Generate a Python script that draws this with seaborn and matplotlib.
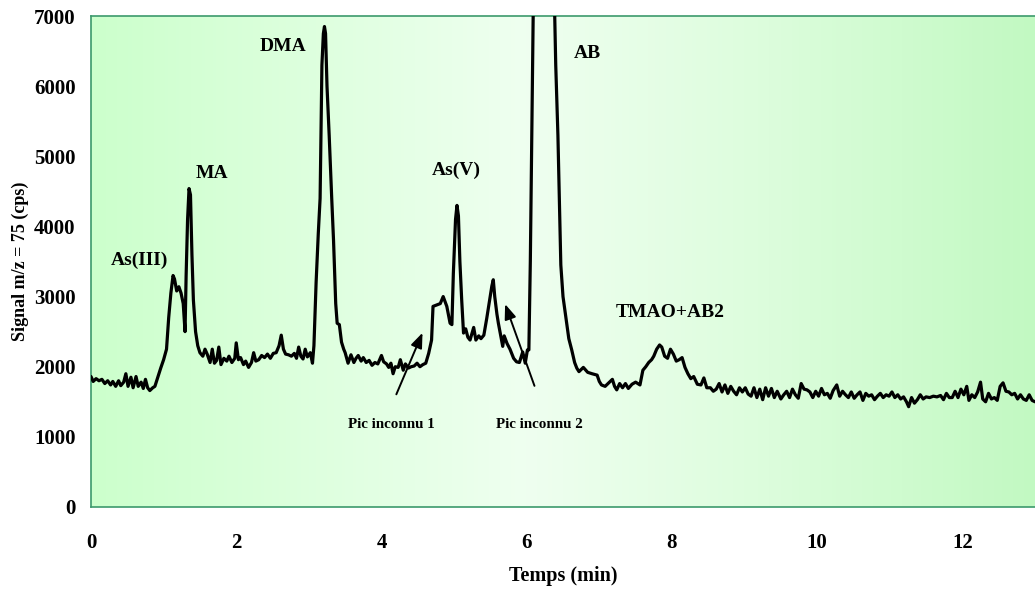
import numpy as np
import pandas as pd
import seaborn as sns
import matplotlib.pyplot as plt
from matplotlib.colors import LinearSegmentedColormap

sns.set_style("white")
plt.rcParams['font.family'] = ['Liberation Serif', 'DejaVu Serif']
plt.rcParams['font.weight'] = 'bold'
plt.rcParams['text.color'] = 'black'
plt.rcParams['axes.labelcolor'] = 'black'

# chromatogram: time (min), signal (cps)
temps = [
    0.00, 0.03, 0.07, 0.11, 0.15, 0.19, 0.23, 0.27, 0.30, 0.34, 0.38, 0.41, 0.45, 0.48, 0.51, 0.55,
    0.58, 0.62, 0.65, 0.69, 0.72, 0.75, 0.78, 0.81, 0.85, 0.88, 0.92, 0.96, 1.00, 1.04, 1.07, 1.10,
    1.13, 1.15, 1.18, 1.21, 1.24, 1.27, 1.295, 1.31, 1.33, 1.35, 1.37, 1.39, 1.41, 1.44, 1.47, 1.50,
    1.54, 1.57, 1.60, 1.64, 1.67, 1.70, 1.73, 1.76, 1.79, 1.83, 1.87, 1.90, 1.94, 1.98, 2.00, 2.03,
    2.06, 2.10, 2.13, 2.17, 2.21, 2.24, 2.27, 2.31, 2.35, 2.39, 2.43, 2.47, 2.51, 2.55, 2.59, 2.62,
    2.65, 2.68, 2.72, 2.76, 2.80, 2.83, 2.86, 2.89, 2.92, 2.95, 2.98, 3.02, 3.05, 3.07, 3.10, 3.13,
    3.155, 3.18, 3.20, 3.215, 3.23, 3.25, 3.28, 3.315, 3.34, 3.37, 3.39, 3.42, 3.45, 3.48, 3.50, 3.54,
    3.58, 3.62, 3.65, 3.68, 3.72, 3.75, 3.79, 3.83, 3.87, 3.91, 3.95, 4.00, 4.03, 4.07, 4.10, 4.13,
    4.16, 4.19, 4.23, 4.26, 4.30, 4.33, 4.37, 4.41, 4.45, 4.49, 4.53, 4.57, 4.61, 4.65, 4.69, 4.71,
    4.76, 4.81, 4.85, 4.90, 4.945, 4.97, 4.99, 5.02, 5.04, 5.06, 5.08, 5.105, 5.13, 5.16, 5.19, 5.22,
    5.27, 5.30, 5.34, 5.37, 5.41, 5.45, 5.49, 5.52, 5.54, 5.56, 5.59, 5.61, 5.65, 5.67, 5.69, 5.73,
    5.77, 5.82, 5.86, 5.90, 5.945, 5.98, 6.01, 6.03, 6.05, 6.06, 6.075, 6.09, 6.13, 6.22, 6.32, 6.38,
    6.40, 6.43, 6.45, 6.47, 6.50, 6.54, 6.58, 6.62, 6.66, 6.69, 6.72, 6.78, 6.84, 6.90, 6.97, 7.00,
    7.03, 7.08, 7.13, 7.18, 7.21, 7.24, 7.28, 7.32, 7.36, 7.40, 7.45, 7.50, 7.56, 7.60, 7.64, 7.68,
    7.72, 7.75, 7.79, 7.83, 7.86, 7.90, 7.94, 7.98, 8.02, 8.06, 8.10, 8.14, 8.18, 8.22, 8.26, 8.30,
    8.35, 8.40, 8.44, 8.48, 8.53, 8.57, 8.61, 8.65, 8.69, 8.73, 8.77, 8.81, 8.85, 8.89, 8.93, 8.97,
    9.01, 9.05, 9.09, 9.13, 9.17, 9.21, 9.25, 9.29, 9.33, 9.37, 9.41, 9.45, 9.50, 9.54, 9.58, 9.62,
    9.66, 9.70, 9.74, 9.78, 9.82, 9.86, 9.90, 9.94, 9.98, 10.02, 10.06, 10.10, 10.14, 10.18, 10.22, 10.27,
    10.31, 10.35, 10.39, 10.43, 10.47, 10.51, 10.55, 10.59, 10.63, 10.67, 10.71, 10.75, 10.79, 10.83, 10.87, 10.91,
    10.95, 10.99, 11.03, 11.07, 11.11, 11.15, 11.19, 11.23, 11.26, 11.30, 11.34, 11.38, 11.42, 11.46, 11.50, 11.55,
    11.60, 11.65, 11.70, 11.74, 11.78, 11.82, 11.86, 11.90, 11.94, 11.98, 12.02, 12.06, 12.09, 12.13, 12.17, 12.21,
    12.25, 12.28, 12.32, 12.36, 12.40, 12.44, 12.48, 12.52, 12.56, 12.60, 12.64, 12.68, 12.72, 12.76, 12.80, 12.84,
    12.88, 12.92, 12.96, 13.00,
]
signal = [
    1860, 1790, 1830, 1800, 1820, 1760, 1800, 1740, 1790, 1720, 1800, 1730, 1780, 1900, 1720, 1850,
    1700, 1860, 1720, 1780, 1690, 1820, 1700, 1660, 1700, 1720, 1850, 1980, 2100, 2250, 2700, 3050,
    3300, 3250, 3080, 3140, 3050, 2900, 2500, 3300, 4100, 4540, 4450, 3600, 2950, 2500, 2300, 2200,
    2150, 2250, 2180, 2060, 2250, 2050, 2090, 2280, 2030, 2120, 2080, 2150, 2060, 2120, 2340, 2100,
    2130, 2030, 2080, 1990, 2060, 2200, 2080, 2100, 2160, 2130, 2180, 2120, 2190, 2200, 2300, 2450,
    2250, 2180, 2170, 2150, 2190, 2120, 2280, 2150, 2110, 2250, 2140, 2200, 2050, 2300, 3200, 3900,
    4400, 6300, 6750, 6850, 6750, 6000, 5300, 4400, 3800, 2900, 2620, 2600, 2350, 2250, 2200, 2050,
    2170, 2060, 2120, 2160, 2080, 2130, 2060, 2090, 2020, 2060, 2040, 2160, 2070, 2040, 1990, 2050,
    1900, 2000, 1990, 2100, 1950, 2040, 1980, 2000, 2010, 2050, 2000, 2030, 2050, 2190, 2380, 2860,
    2880, 2900, 3000, 2860, 2620, 2600, 3330, 4100, 4300, 4150, 3500, 2950, 2480, 2540, 2420, 2380,
    2560, 2380, 2440, 2400, 2450, 2690, 2950, 3150, 3240, 3000, 2750, 2620, 2400, 2290, 2440, 2330,
    2250, 2120, 2070, 2060, 2210, 2050, 2240, 2240, 3500, 4400, 5800, 7100, 10000, 11500, 9500, 7300,
    6300, 5300, 4400, 3450, 3000, 2700, 2400, 2240, 2060, 1980, 1930, 1990, 1920, 1900, 1880, 1790,
    1740, 1720, 1770, 1820, 1720, 1670, 1760, 1700, 1760, 1690, 1750, 1780, 1740, 1950, 2000, 2060,
    2100, 2150, 2250, 2310, 2280, 2150, 2120, 2250, 2180, 2080, 2100, 2130, 1990, 1900, 1830, 1860,
    1750, 1740, 1840, 1700, 1700, 1650, 1680, 1760, 1640, 1740, 1620, 1720, 1650, 1600, 1700, 1640,
    1700, 1610, 1580, 1700, 1560, 1680, 1530, 1700, 1580, 1690, 1560, 1650, 1540, 1600, 1650, 1560,
    1680, 1600, 1550, 1760, 1680, 1670, 1640, 1560, 1650, 1580, 1690, 1600, 1620, 1550, 1660, 1740,
    1580, 1650, 1600, 1560, 1640, 1550, 1600, 1640, 1520, 1620, 1580, 1600, 1530, 1580, 1620, 1560,
    1600, 1580, 1640, 1560, 1600, 1540, 1570, 1500, 1430, 1560, 1480, 1530, 1600, 1540, 1570, 1560,
    1580, 1570, 1590, 1530, 1620, 1560, 1560, 1650, 1560, 1680, 1600, 1720, 1520, 1600, 1560, 1640,
    1780, 1540, 1500, 1620, 1540, 1560, 1520, 1720, 1770, 1650, 1640, 1600, 1620, 1540, 1600, 1540,
    1520, 1600, 1520, 1500,
]

peak_labels = ["As(III)", "MA", "DMA", "As(V)", "AB", "TMAO+AB2"]
peak_label_x = [0.67, 1.66, 2.65, 5.03, 6.83, 7.98]
peak_label_y = [3520, 4750, 6560, 4800, 6470, 2770]

unknown_labels = ["Pic inconnu 1", "Pic inconnu 2"]
unknown_text_x = [4.14, 6.17]
unknown_text_y = [1180, 1180]
arrow_tail = [(4.19, 1570), (6.12, 1690)]
arrow_head = [(4.58, 2520), (5.69, 2930)]

df = pd.DataFrame({"Temps": temps, "Signal": signal})

fig = plt.figure(figsize=(10.35, 5.89), dpi=100)
ax = fig.add_axes([91 / 1035, 82 / 589, 944 / 1035, 491 / 589])

# green -> pale -> green background
bg = LinearSegmentedColormap.from_list(
    "bg", [(0.0, "#ccffcc"), (0.46, "#effff0"), (0.72, "#dcfddc"), (1.0, "#c2f9c2")])
ax.imshow(np.linspace(0, 1, 256).reshape(1, -1), cmap=bg, aspect="auto",
          extent=(0, 13, 0, 7000), zorder=0)

sns.lineplot(data=df, x="Temps", y="Signal", color="black", linewidth=2.3,
             estimator=None, ax=ax, zorder=3)

ax.set_xlim(0, 13)
ax.set_ylim(0, 7000)
ax.set_xticks(range(0, 13, 2))
ax.set_yticks(range(0, 7001, 1000))

green = "#3c9a6c"
for s in ["left", "bottom", "top"]:
    ax.spines[s].set_color(green)
    ax.spines[s].set_linewidth(1.2)
ax.spines["right"].set_visible(False)
ax.tick_params(axis="both", colors=green, length=6, width=1, direction="out",
               labelcolor="black", labelsize=15)
ax.tick_params(axis="x", pad=13)
ax.tick_params(axis="y", pad=5)
for lab in ax.get_xticklabels() + ax.get_yticklabels():
    lab.set_fontweight("bold")

ax.set_xlabel("Temps (min)", fontsize=14.5, fontweight="bold", labelpad=9)
ax.set_ylabel("Signal m/z = 75 (cps)", fontsize=13, fontweight="bold", labelpad=4)

for lab, x, y in zip(peak_labels, peak_label_x, peak_label_y):
    ax.text(x, y, lab, ha="center", va="center", fontsize=14, fontweight="bold", zorder=4)

for lab, x, y in zip(unknown_labels, unknown_text_x, unknown_text_y):
    ax.text(x, y, lab, ha="center", va="center", fontsize=10.8, fontweight="bold", zorder=4)

for tail, head in zip(arrow_tail, arrow_head):
    ax.annotate("", xy=head, xytext=tail,
                arrowprops=dict(arrowstyle="-|>,head_length=0.9,head_width=0.35",
                                color="black", lw=1.4), zorder=4)

fig.savefig("out.png", dpi=100)
